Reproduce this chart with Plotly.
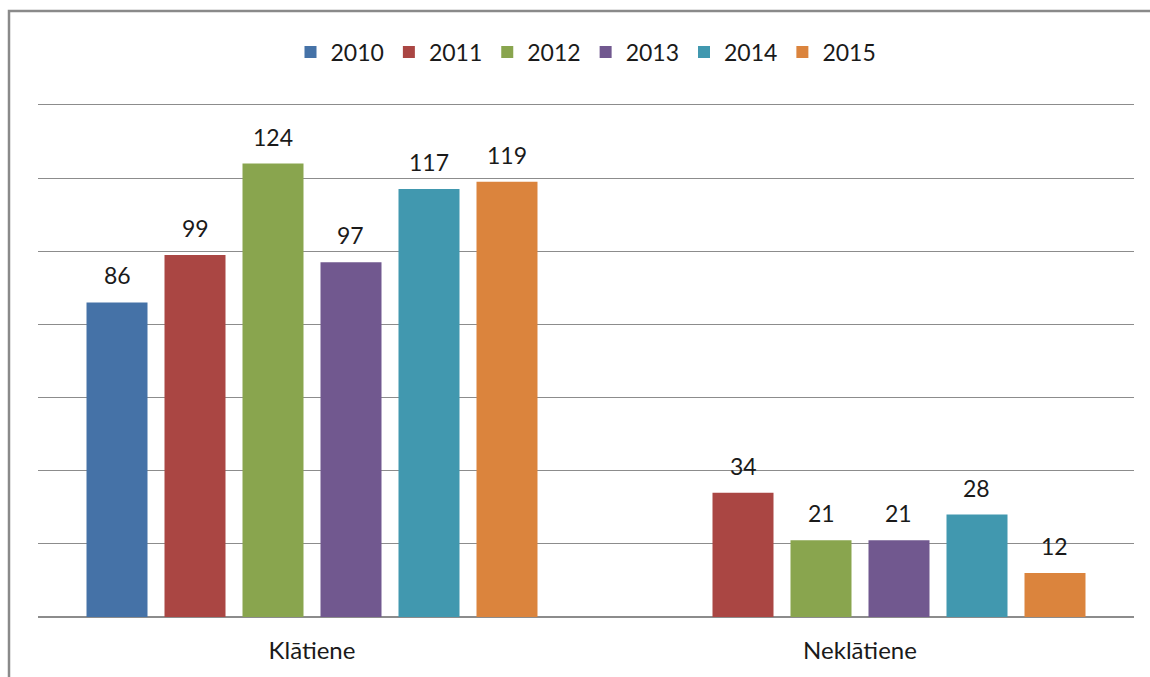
import plotly.graph_objects as go

categories = ["Klātiene", "Neklātiene"]
years = ["2010", "2011", "2012", "2013", "2014", "2015"]
values_2010 = [86, None]
values_2011 = [99, 34]
values_2012 = [124, 21]
values_2013 = [97, 21]
values_2014 = [117, 28]
values_2015 = [119, 12]
series = [values_2010, values_2011, values_2012, values_2013, values_2014, values_2015]
colors = ["#4572A7", "#AA4643", "#89A54E", "#71588F", "#4198AF", "#DB843D"]
y_ticks = [0, 20, 40, 60, 80, 100, 120, 140]

FONT = "Lato, Carlito, Calibri, sans-serif"
W, H = 1150, 677
ML, MR, MT, MB = 38, 16, 105, 60
BARGAP, BARGROUPGAP = 0.146, 0.218
plot_w = W - ML - MR
plot_h = H - MT - MB
slot_px = plot_w / len(categories) * (1 - BARGAP) / len(years)

fig = go.Figure()
annotations = []
for i, (name, vals, col) in enumerate(zip(years, series, colors)):
    fig.add_trace(go.Bar(
        name=name, x=categories, y=vals,
        marker=dict(color=col, line=dict(width=0)),
    ))
    for cat, v in zip(categories, vals):
        if v is None:
            continue
        annotations.append(dict(
            x=cat, y=v, xref="x", yref="y", text=str(v), showarrow=False,
            xshift=(i - (len(years) - 1) / 2) * slot_px, yshift=27,
            yanchor="middle", xanchor="center",
            font=dict(size=23, color="#1a1a1a", family=FONT),
        ))

fig.update_layout(
    width=W, height=H,
    margin=dict(l=ML, r=MR, t=MT, b=MB, autoexpand=False),
    paper_bgcolor="white", plot_bgcolor="white",
    barmode="group", bargap=BARGAP, bargroupgap=BARGROUPGAP,
    font=dict(family=FONT, color="#1a1a1a"),
    legend=dict(orientation="h", x=0.5, xanchor="center", y=1 - 52 / H, yref="container",
                yanchor="middle", font=dict(size=23, family=FONT),
                traceorder="normal", itemclick=False),
    showlegend=True,
    xaxis=dict(showline=True, mirror=True, linecolor="#8c8c8c", linewidth=1, ticks="",
               tickfont=dict(size=24, family=FONT, color="#1a1a1a"), showgrid=False,
               ticklabelstandoff=12),
    yaxis=dict(range=[0, 140], tickvals=y_ticks, showticklabels=False, showgrid=True,
               gridcolor="#8c8c8c", gridwidth=1, zeroline=True, zerolinecolor="#8c8c8c",
               zerolinewidth=1.5, showline=False, fixedrange=True),
    annotations=annotations,
    shapes=[dict(type="rect", xref="paper", yref="paper",
                 x0=(9 - ML) / plot_w, x1=1.2, y0=-0.3, y1=(H - MB - 11) / plot_h,
                 line=dict(color="#8a8a8a", width=2.5), fillcolor="rgba(0,0,0,0)", layer="above")],
)

fig.write_html(
    "out.html",
    config={"displayModeBar": False},
    post_script="document.body.style.margin='0';document.body.style.overflow='hidden';",
)
